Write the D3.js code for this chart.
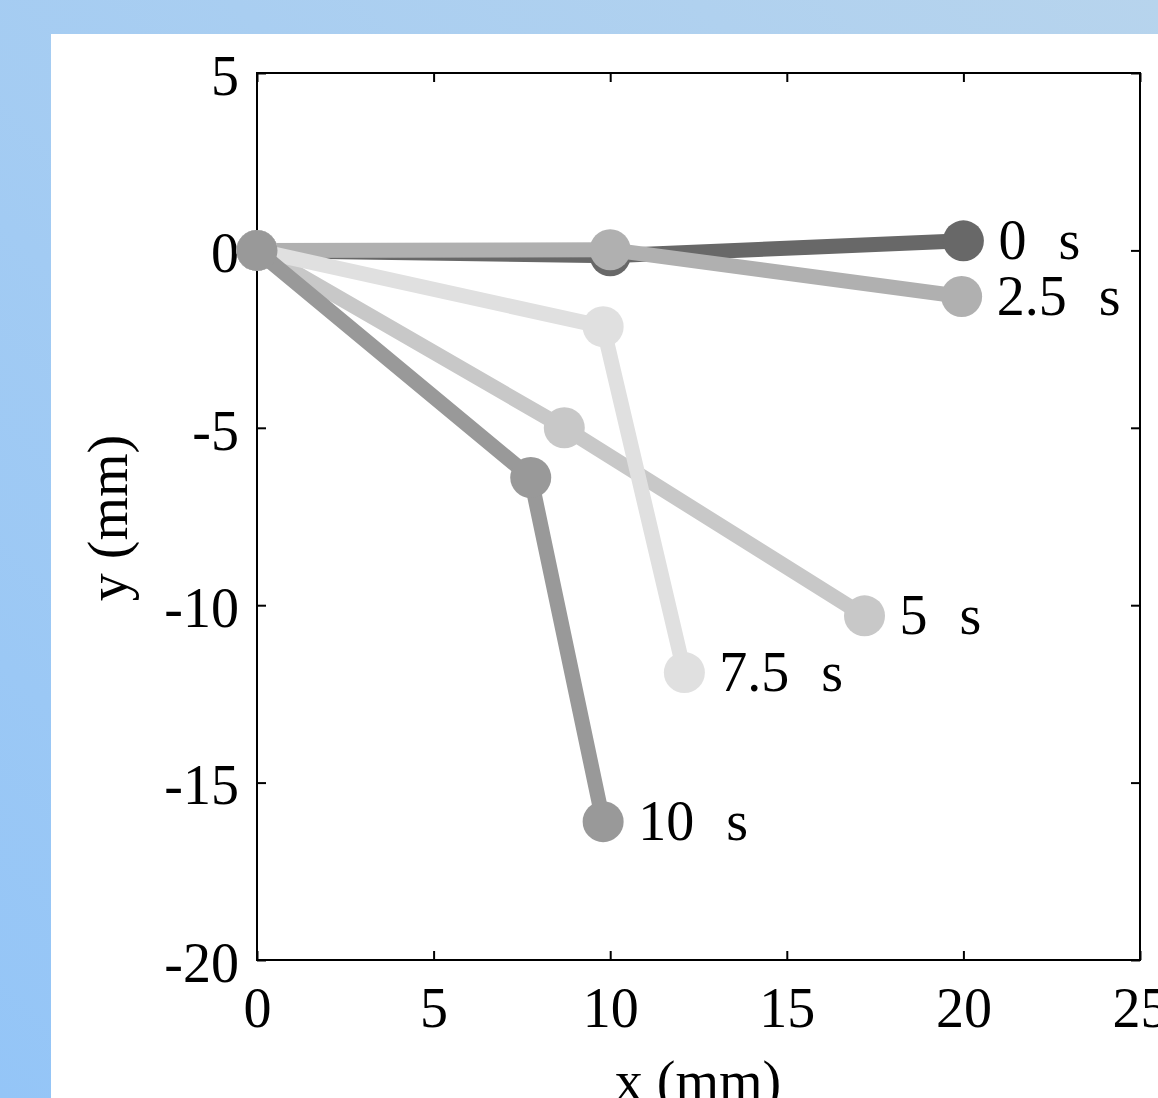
<!DOCTYPE html>
<html>
<head>
<meta charset="utf-8">
<script src="https://cdn.jsdelivr.net/npm/d3@7"></script>
<style>
  html, body { margin: 0; padding: 0; overflow: hidden; }
  text { font-family: "Liberation Serif", "Times New Roman", serif; }
</style>
</head>
<body>
<div id="chart"></div>
<script>
// time labels and the (x, y) positions of each snapshot, in mm
const labels = ['0  s', '2.5  s', '5  s', '7.5  s', '10  s'];
const xValues = [
    [0, 10, 20],
    [0, 10, 19.95],
    [0, 8.7, 17.2],
    [0, 9.8, 12.1],
    [0, 7.75, 9.8]
];
const yValues = [
    [0, -0.15, 0.27],
    [0, 0.02, -1.3],
    [0, -5.0, -10.3],
    [0, -2.15, -11.9],
    [0, -6.4, -16.1]
];
const xTicks = [0, 5, 10, 15, 20, 25];
const yTicks = [5, 0, -5, -10, -15, -20];

const colours = ['#686868', '#b0b0b0', '#c8c8c8', '#e0e0e0', '#999999'];

const width = 1158;
const height = 1098;
const plotLeft = 257, plotRight = 1140, plotTop = 73, plotBottom = 960;
const fontSize = 56;

const svg = d3.select('#chart')
    .append('svg')
    .attr('width', width)
    .attr('height', height);

// blue backdrop with white panel
const grad = svg.append('defs').append('linearGradient')
    .attr('id', 'bg')
    .attr('x1', '0%').attr('y1', '100%')
    .attr('x2', '100%').attr('y2', '0%');
grad.append('stop').attr('offset', '0%').attr('stop-color', '#94c5f7');
grad.append('stop').attr('offset', '100%').attr('stop-color', '#b7d4ed');

svg.append('rect')
    .attr('width', width).attr('height', height)
    .attr('fill', 'url(#bg)');
svg.append('rect')
    .attr('x', 51).attr('y', 34)
    .attr('width', width - 51).attr('height', height - 34)
    .attr('fill', 'white');

const x = d3.scaleLinear().domain([0, 25]).range([plotLeft, plotRight]);
const y = d3.scaleLinear().domain([-20, 5]).range([plotBottom, plotTop]);

// plain hyphen for negatives, like the original
const fmt = d => String(d);

// axes, ticks pointing inward
const styleAxis = g => {
    g.select('.domain').remove();
    g.selectAll('.tick line').attr('stroke', 'black').attr('stroke-width', 2);
    g.selectAll('.tick text')
        .attr('font-size', fontSize)
        .attr('font-family', '"Liberation Serif", serif')
        .attr('fill', 'black');
};

svg.append('g')
    .attr('transform', `translate(0, ${plotBottom})`)
    .call(d3.axisBottom(x).tickValues(xTicks).tickFormat(fmt)
        .tickSizeInner(-9).tickSizeOuter(0).tickPadding(27))
    .call(styleAxis);

svg.append('g')
    .attr('transform', `translate(${plotLeft}, 0)`)
    .call(d3.axisLeft(y).tickValues(yTicks).tickFormat(fmt)
        .tickSizeInner(-9).tickSizeOuter(0).tickPadding(18))
    .call(styleAxis)
    .selectAll('.tick text').attr('dy', '0.38em');

svg.append('g')
    .attr('transform', `translate(0, ${plotTop})`)
    .call(d3.axisTop(x).tickValues(xTicks).tickFormat('')
        .tickSizeInner(-9).tickSizeOuter(0))
    .call(styleAxis);

svg.append('g')
    .attr('transform', `translate(${plotRight}, 0)`)
    .call(d3.axisRight(y).tickValues(yTicks).tickFormat('')
        .tickSizeInner(-9).tickSizeOuter(0))
    .call(styleAxis);

svg.append('rect')
    .attr('x', plotLeft).attr('y', plotTop)
    .attr('width', plotRight - plotLeft).attr('height', plotBottom - plotTop)
    .attr('fill', 'none')
    .attr('stroke', 'black')
    .attr('stroke-width', 2);

// one line + dots per snapshot
const series = labels.map((label, i) => ({
    label: label,
    colour: colours[i],
    points: xValues[i].map((v, j) => ({ x: v, y: yValues[i][j] }))
}));

const line = d3.line()
    .x(d => x(d.x))
    .y(d => y(d.y));

const groups = svg.selectAll('.series')
    .data(series)
    .enter()
    .append('g')
    .attr('class', 'series');

groups.append('path')
    .attr('d', d => line(d.points))
    .attr('fill', 'none')
    .attr('stroke', d => d.colour)
    .attr('stroke-width', 15);

groups.selectAll('circle')
    .data(d => d.points.map(p => ({ ...p, colour: d.colour })))
    .enter()
    .append('circle')
    .attr('cx', d => x(d.x))
    .attr('cy', d => y(d.y))
    .attr('r', 20.5)
    .attr('fill', d => d.colour);

groups.append('text')
    .attr('x', d => x(d.points[2].x) + 35)
    .attr('y', d => y(d.points[2].y) + 18)
    .attr('font-size', fontSize)
    .attr('fill', 'black')
    .style('white-space', 'pre')
    .style('word-spacing', '2px')
    .text(d => d.label);

// axis titles
svg.append('text')
    .attr('x', 698)
    .attr('y', 1100)
    .attr('text-anchor', 'middle')
    .attr('font-size', fontSize)
    .text('x (mm)');

svg.append('text')
    .attr('transform', 'translate(127, 518) rotate(-90)')
    .attr('text-anchor', 'middle')
    .attr('font-size', fontSize)
    .text('y (mm)');
</script>
</body>
</html>
